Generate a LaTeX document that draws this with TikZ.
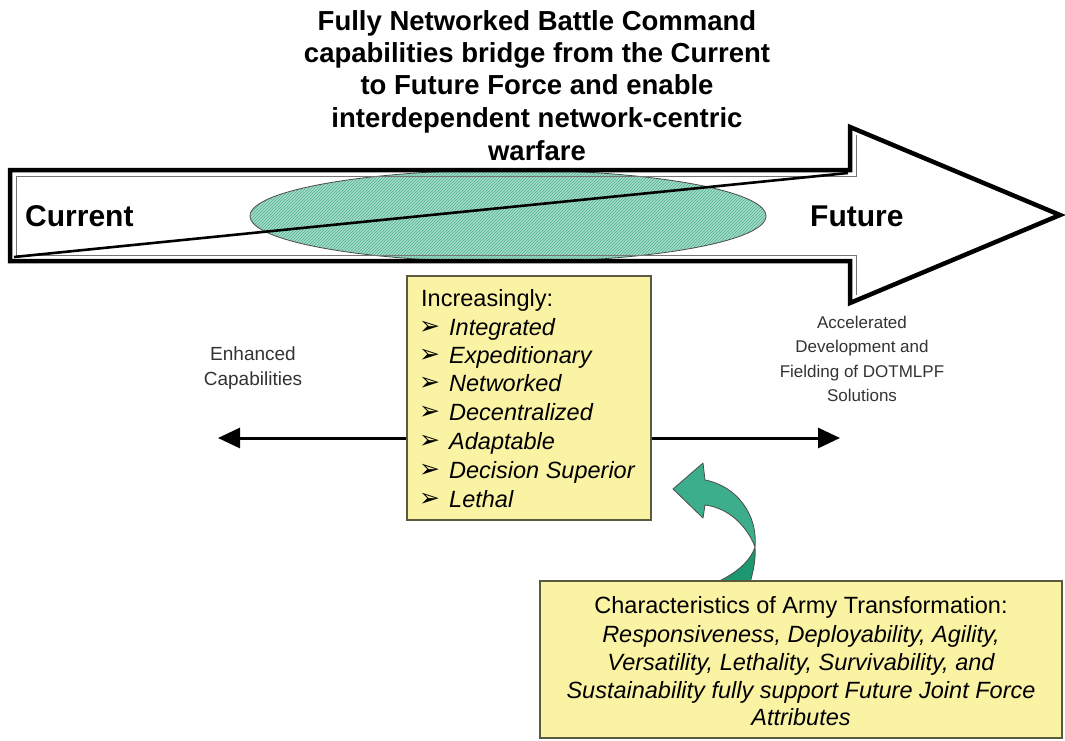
\documentclass[tikz,border=0pt]{standalone}
\usepackage{fontspec}
\setmainfont{Liberation Sans}
\newfontfamily\dv{DejaVu Sans}
\usetikzlibrary{arrows.meta,patterns}
\definecolor{boxfill}{HTML}{FBF3A4}
\definecolor{boxline}{HTML}{5A5A40}
\definecolor{ellfill}{HTML}{A6DDCB}
\definecolor{ellhatch}{HTML}{4FAE92}
\definecolor{greenlight}{HTML}{3DAE8C}
\definecolor{greendark}{HTML}{1C976F}
\definecolor{labelgray}{HTML}{333333}
\tikzset{
  ybox/.style={draw=boxline, fill=boxfill, line width=1.5pt, inner sep=0pt},
  titletxt/.style={inner sep=0pt, anchor=base, font=\bfseries\fontsize{27.5}{32}\selectfont},
  bigtxt/.style={inner sep=0pt, anchor=base west, font=\bfseries\fontsize{30}{34}\selectfont},
  listtxt/.style={inner sep=0pt, anchor=base west, font=\fontsize{23.5}{28}\selectfont},
  bullettxt/.style={inner sep=0pt, anchor=base west, font=\dv\fontsize{25}{28}\selectfont},
  bottxt/.style={inner sep=0pt, anchor=base, font=\fontsize{23.5}{28}\selectfont},
  sidetxt/.style={inner sep=0pt, anchor=base, text=labelgray},
  hline/.style={line width=3pt, -{Triangle[length=22pt,width=20pt]}},
}
\begin{document}
\begin{tikzpicture}[x=1pt,y=-1pt]
\useasboundingbox (0,0) rectangle (1065,740);
\fill[white] (0,0) rectangle (1065,740);

% title
\node[titletxt] (t1) at (537,30) {Fully Networked Battle Command};
\node[titletxt] (t2) at (537,62) {capabilities bridge from the Current};
\node[titletxt] (t3) at (537,94) {to Future Force and enable};
\node[titletxt] (t4) at (537,127) {interdependent network-centric};
\node[titletxt] (t5) at (537,160) {warfare};

% ellipse
\fill[ellfill] (508,216) ellipse [x radius=258pt, y radius=46pt];
\fill[pattern=north east lines, pattern color=ellhatch] (508,216) ellipse [x radius=258pt, y radius=46pt];
\draw[line width=0.8pt, draw=black!70] (508,216) ellipse [x radius=258pt, y radius=46pt];

% big arrow outline
\draw[line width=4.5pt, line join=miter] (10,170) -- (850,170) -- (850,127) -- (1060,215) -- (850,303) -- (850,261) -- (10,261) -- cycle;
\draw[line width=1pt, black!55] (16,255) -- (16,176) -- (856,176) -- (856,135);
\draw[line width=1pt, black!55] (856,295) -- (856,255) -- (16,255);
\coordinate (dA) at (14,257);
\coordinate (dB) at (848,173);
\draw[line width=2.6pt] (dA) -- (dB);

\node[bigtxt] (cur) at (25,226) {Current};
\node[bigtxt] (fut) at (810,226) {Future};

% list box
\node[ybox, minimum width=244pt, minimum height=244pt] (list) at (529,398) {};
\node[listtxt] (l0) at (421,306) {Increasingly:};
\foreach \y/\t [count=\i] in {335/Integrated,363/Expeditionary,391/Networked,420/Decentralized,449/Adaptable,478/Decision Superior,507/Lethal}{
  \node[bullettxt] (b\i) at (419,\y-1) {➢};
  \node[listtxt] (l\i) at (449,\y) {\itshape \t};
}

% horizontal arrows
\coordinate (lefttip) at (218,438);
\coordinate (righttip) at (840,438);
\draw[hline] (list.west |- lefttip) -- (lefttip);
\draw[hline] (list.east |- righttip) -- (righttip);

% side labels
\node[sidetxt, font=\fontsize{19}{24}\selectfont] (e1) at (253,360) {Enhanced};
\node[sidetxt, font=\fontsize{19}{24}\selectfont] (e2) at (253,385) {Capabilities};
\node[sidetxt, font=\fontsize{17}{22}\selectfont] (a1) at (862,328) {Accelerated};
\node[sidetxt, font=\fontsize{17}{22}\selectfont] (a2) at (862,352) {Development and};
\node[sidetxt, font=\fontsize{17}{22}\selectfont] (a3) at (862,377) {Fielding of DOTMLPF};
\node[sidetxt, font=\fontsize{17}{22}\selectfont] (a4) at (862,401) {Solutions};

% green curved arrow
\filldraw[fill=greenlight, draw=black!70, line width=0.8pt, line join=round]
  (705,480) .. controls (737,486) and (758,515) .. (755,547)
  .. controls (748,528) and (730,508) .. (705,505)
  -- (703,518) -- (673,489) -- (703,463) -- cycle;
\filldraw[fill=greendark, draw=black!70, line width=0.8pt, line join=round]
  (755,547) .. controls (756,560) and (753,572) .. (750,583)
  -- (715,583) .. controls (735,574) and (750,562) .. (755,547) -- cycle;

% bottom box
\node[ybox, minimum width=522pt, minimum height=157pt] (bot) at (801,659.5) {};
\node[bottxt] (c1) at (801,613.5) {Characteristics of Army Transformation:};
\node[bottxt] (c2) at (801,642.5) {\itshape Responsiveness, Deployability, Agility,};
\node[bottxt] (c3) at (801,670.5) {\itshape Versatility, Lethality, Survivability, and};
\node[bottxt] (c4) at (801,698.5) {\itshape Sustainability fully support Future Joint Force};
\node[bottxt] (c5) at (801,725.5) {\itshape Attributes};
\end{tikzpicture}
\end{document}
